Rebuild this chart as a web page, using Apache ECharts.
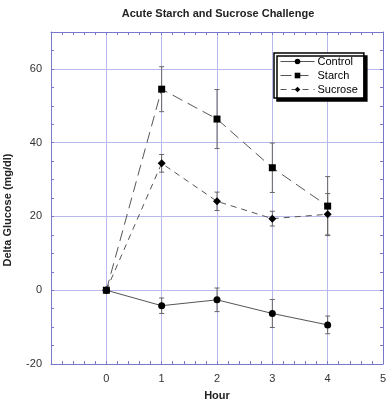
<!DOCTYPE html>
<html>
<head>
<meta charset="utf-8">
<script src="https://cdn.jsdelivr.net/npm/echarts@6/dist/echarts.min.js"></script>
<style>
  html, body { margin: 0; padding: 0; background: #fff; }
  #chart { width: 389px; height: 407px; }
</style>
</head>
<body>
<div id="chart"></div>
<script>
var hours = [0, 1, 2, 3, 4];
var control = [0, -4.2, -2.6, -6.3, -9.4];
var controlErr = [0, 2.1, 3.2, 3.8, 2.4];
var starch = [0, 54.5, 46.4, 33.2, 22.8];
var starchErr = [0, 6.1, 8, 6.7, 8];
var sucrose = [0, 34.4, 24.1, 19.4, 20.6];
var sucroseErr = [0, 2.4, 2.5, 2, 5.6];

(function () {
    var myChart = echarts.init(document.getElementById('chart'));
    var font = 'Arial, "Liberation Sans", sans-serif';
    var frame = '#7777cc';
    var grid = '#b8b8ec';
    var lineColor = '#555';

    function pts(vals) {
        return hours.map(function (h, i) { return [h, vals[i]]; });
    }
    function errs(vals, e) {
        return hours.map(function (h, i) { return [h, vals[i] - e[i], vals[i] + e[i]]; });
    }
    function errSeries(name, vals, e) {
        return {
            name: name + ' err',
            type: 'custom',
            data: errs(vals, e),
            z: 1,
            renderItem: function (params, api) {
                var lo = api.coord([api.value(0), api.value(1)]);
                var hi = api.coord([api.value(0), api.value(2)]);
                var w = 2.5;
                var st = { stroke: '#666', lineWidth: 1 };
                return {
                    type: 'group',
                    children: [
                        { type: 'line', shape: { x1: lo[0], y1: lo[1], x2: hi[0], y2: hi[1] }, style: st },
                        { type: 'line', shape: { x1: lo[0] - w, y1: lo[1], x2: lo[0] + w, y2: lo[1] }, style: st },
                        { type: 'line', shape: { x1: hi[0] - w, y1: hi[1], x2: hi[0] + w, y2: hi[1] }, style: st }
                    ]
                };
            }
        };
    }
    function isInt(v) { return Math.abs(v - Math.round(v)) < 1e-6; }

    var tickAxisX = {
        type: 'value', min: -1, max: 5, interval: 0.2,
        axisLine: { show: true, onZero: false, lineStyle: { color: frame, width: 1 } },
        axisTick: { show: true, inside: true, length: 3, lineStyle: { color: frame } },
        splitLine: { show: false }
    };
    var tickAxisY = {
        type: 'value', min: -20, max: 70, interval: 5,
        axisLine: { show: true, onZero: false, lineStyle: { color: frame, width: 1 } },
        axisTick: { show: true, inside: true, length: 3, lineStyle: { color: frame } },
        splitLine: { show: false }
    };

    var option = {
        animation: false,
        backgroundColor: '#fff',
        title: {
            text: 'Acute Starch and Sucrose Challenge',
            left: 213,
            textAlign: 'center',
            top: 3,
            textStyle: { fontFamily: font, fontSize: 11, fontWeight: 'bold', color: '#222' }
        },
        legend: {
            left: 274,
            top: 53,
            orient: 'vertical',
            backgroundColor: '#fff',
            borderColor: '#000',
            borderWidth: 1.5,
            borderRadius: 0,
            shadowColor: '#000',
            shadowBlur: 0,
            shadowOffsetX: 3,
            shadowOffsetY: 3,
            padding: [3, 6, 3, 6],
            itemWidth: 34,
            itemHeight: 7,
            itemGap: 3,
            lineStyle: { width: 1 },
            textStyle: { fontFamily: font, fontSize: 11, color: '#000', padding: [0, 0, 0, -2] },
            data: ['Control', 'Starch', 'Sucrose']
        },
        grid: { left: 51, right: 6, top: 32, bottom: 43, outerBoundsMode: 'none', containLabel: false },
        xAxis: [
            Object.assign({}, tickAxisX, {
                position: 'bottom',
                name: 'Hour',
                nameLocation: 'middle',
                nameGap: 26,
                nameTextStyle: { fontFamily: font, fontSize: 11, fontWeight: 'bold', color: '#222' },
                axisLabel: {
                    fontFamily: font, fontSize: 11, color: '#333', margin: 9,
                    formatter: function (v) { return isInt(v) && v >= 0 ? String(Math.round(v)) : ''; }
                }
            }),
            Object.assign({}, tickAxisX, { position: 'top', axisLabel: { show: false } }),
            {
                type: 'value', min: -1, max: 5, interval: 1, position: 'bottom',
                axisLine: { show: false }, axisTick: { show: false }, axisLabel: { show: false },
                splitLine: { show: true, lineStyle: { color: grid, width: 1 } }
            }
        ],
        yAxis: [
            Object.assign({}, tickAxisY, {
                position: 'left',
                name: 'Delta Glucose (mg/dl)',
                nameLocation: 'middle',
                nameGap: 38,
                nameTextStyle: { fontFamily: font, fontSize: 11, fontWeight: 'bold', color: '#222', padding: [0, 0, 0, -24] },
                axisLabel: {
                    fontFamily: font, fontSize: 11, color: '#333', margin: 9,
                    formatter: function (v) { return (v % 20 === 0) ? String(v) : ''; }
                }
            }),
            Object.assign({}, tickAxisY, { position: 'right', axisLabel: { show: false } }),
            {
                type: 'value', min: -20, max: 70, interval: 20, position: 'left',
                axisLine: { show: false }, axisTick: { show: false }, axisLabel: { show: false },
                splitLine: { show: true, lineStyle: { color: grid, width: 1 } }
            }
        ],
        series: [
            errSeries('Control', control, controlErr),
            errSeries('Starch', starch, starchErr),
            errSeries('Sucrose', sucrose, sucroseErr),
            {
                name: 'Control', type: 'line', data: pts(control), z: 3,
                symbol: 'circle', symbolSize: 7,
                itemStyle: { color: '#000' },
                lineStyle: { color: lineColor, width: 1 }
            },
            {
                name: 'Sucrose', type: 'line', data: pts(sucrose), z: 4,
                symbol: 'diamond', symbolSize: 8,
                itemStyle: { color: '#000' },
                lineStyle: { color: lineColor, width: 1, type: [6, 5] }
            },
            {
                name: 'Starch', type: 'line', data: pts(starch), z: 5,
                symbol: 'rect', symbolSize: 7,
                itemStyle: { color: '#000' },
                lineStyle: { color: lineColor, width: 1, type: [11, 6] }
            }
        ]
    };

    myChart.setOption(option);
    window.addEventListener('resize', function () {
        myChart.resize();
    });
})();
</script>
</body>
</html>
